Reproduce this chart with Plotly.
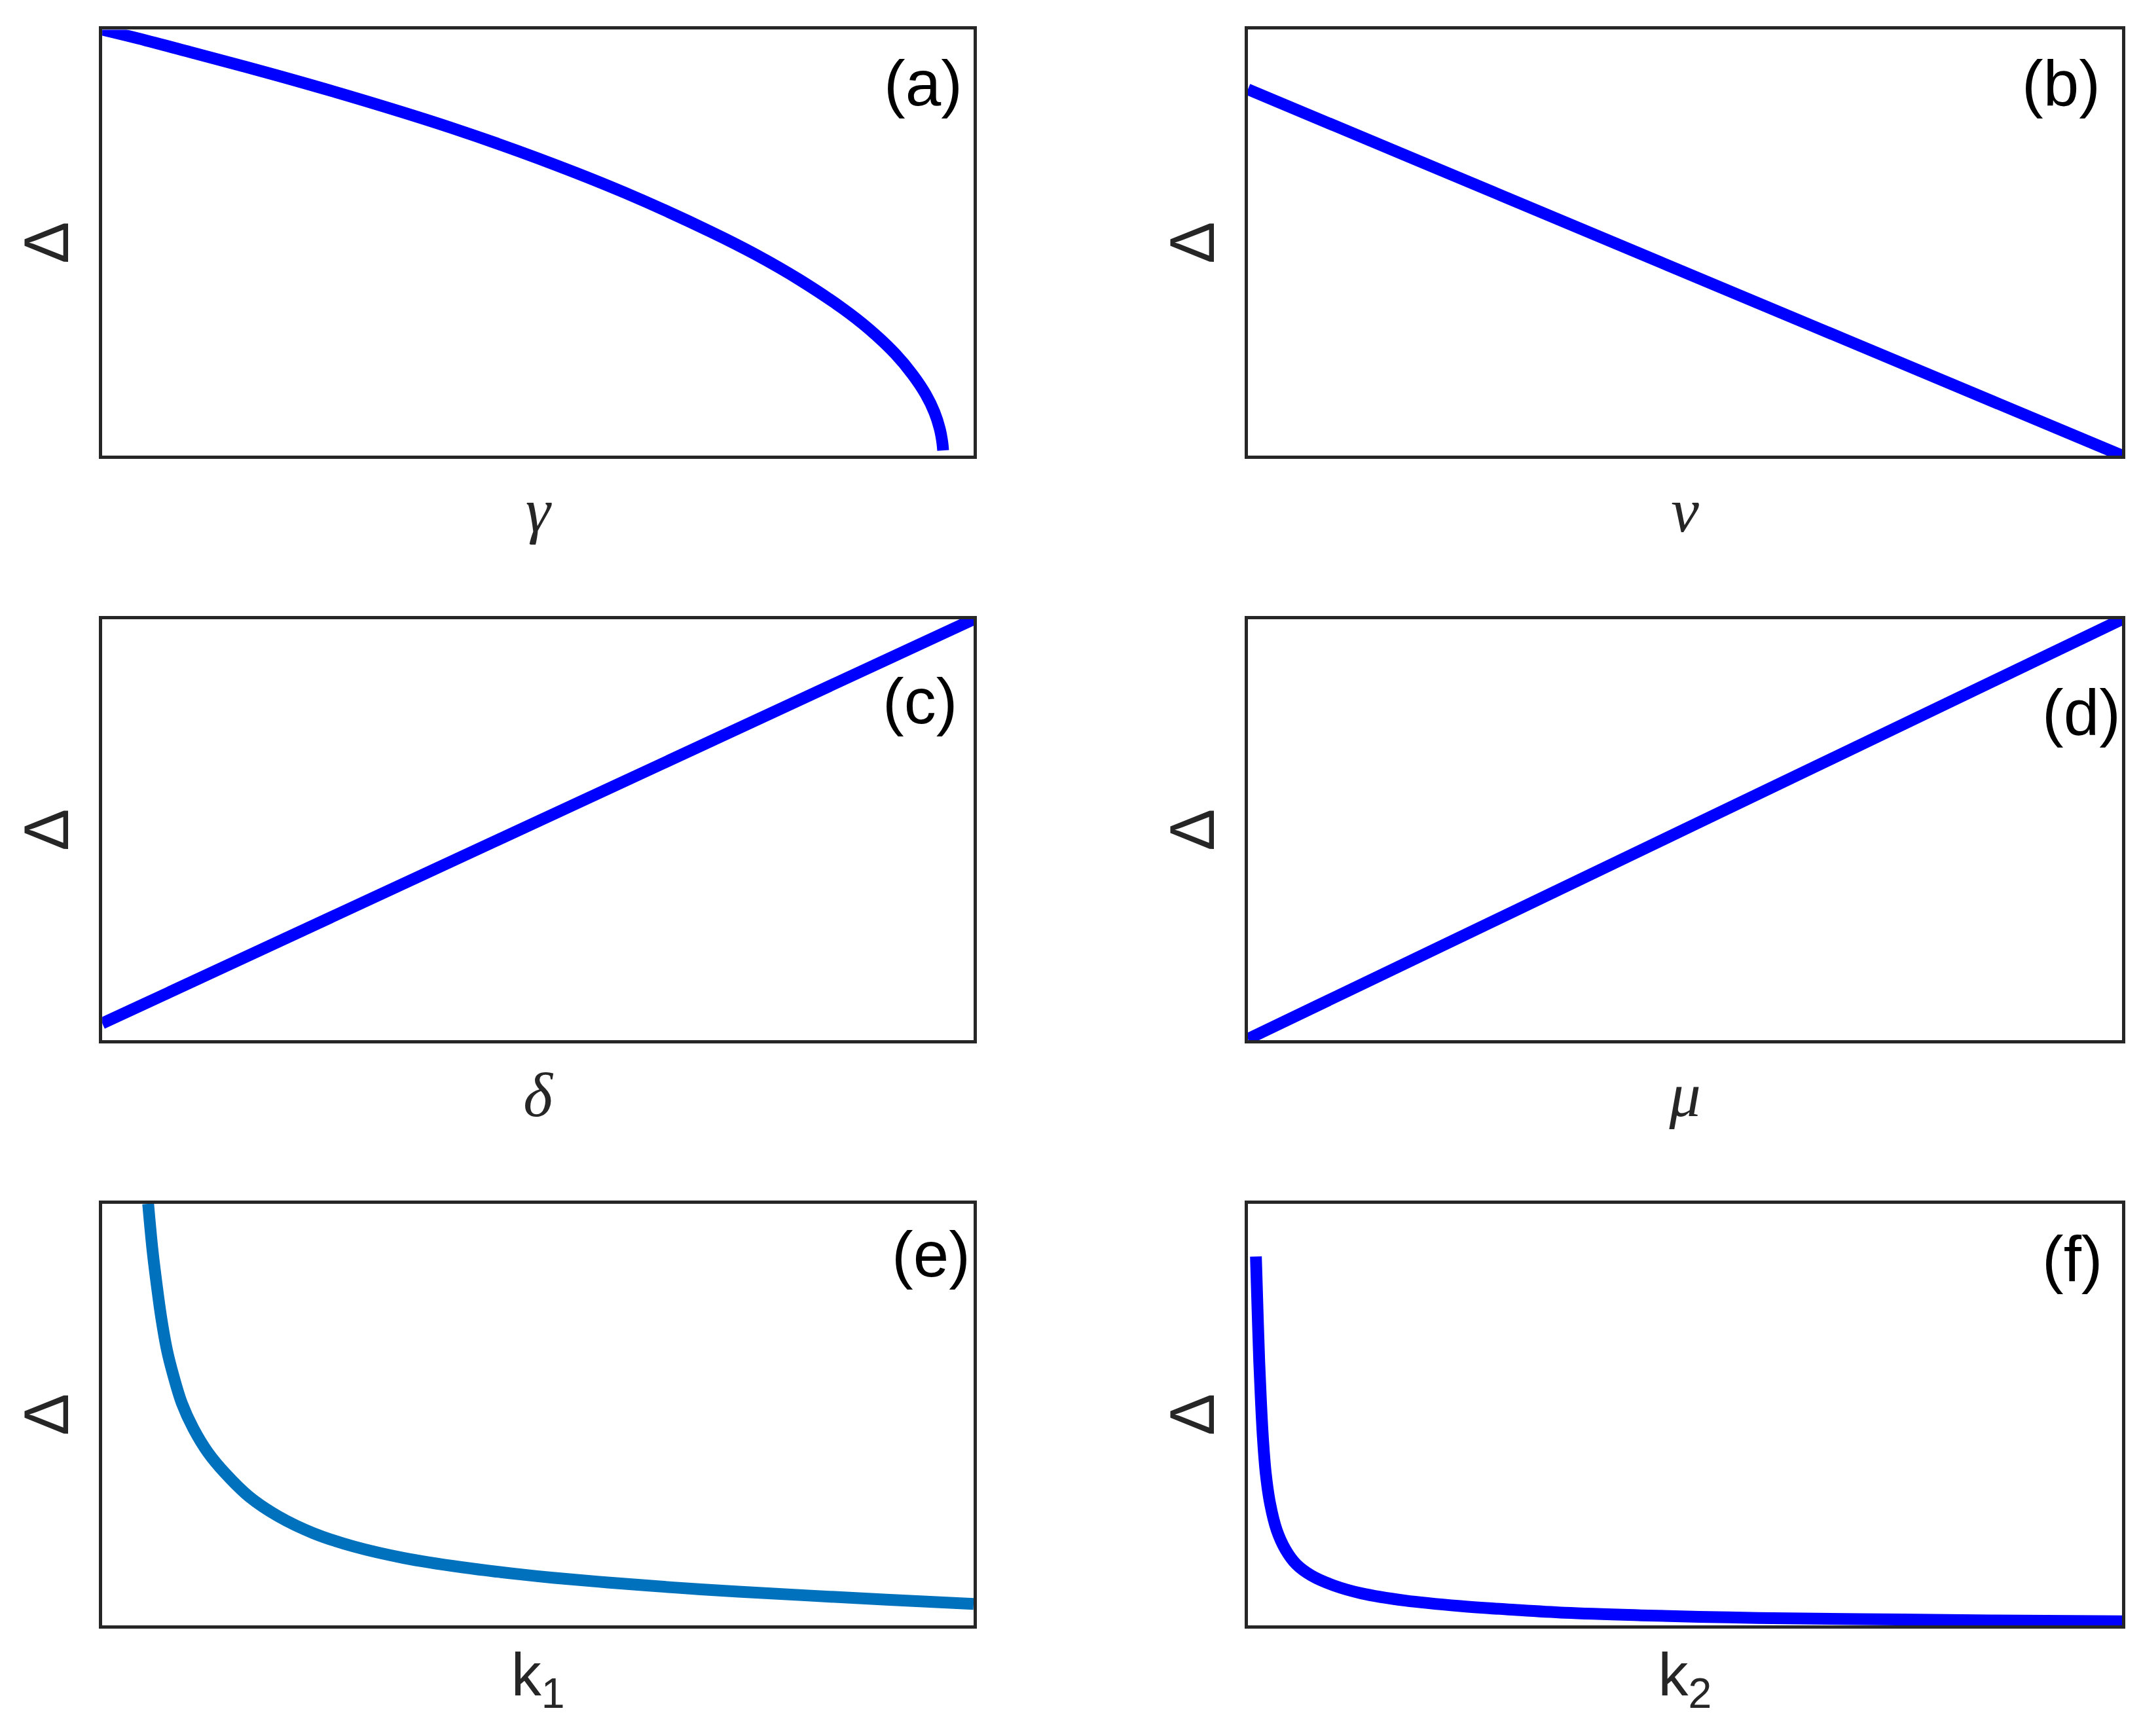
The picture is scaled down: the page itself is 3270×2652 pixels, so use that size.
import plotly.graph_objects as go

# panel (a): Delta vs gamma (normalised)
gamma_x = [0.0, 0.05, 0.1, 0.2, 0.3, 0.4, 0.5, 0.6, 0.7, 0.75, 0.8, 0.85, 0.88, 0.91, 0.93, 0.945, 0.955, 0.961, 0.964, 0.965]
gamma_y = [1.0, 0.975, 0.948, 0.893, 0.834, 0.770, 0.698, 0.617, 0.524, 0.472, 0.413, 0.345, 0.297, 0.239, 0.190, 0.144, 0.102, 0.064, 0.032, 0.012]

# panel (b): Delta vs nu
nu_x = [0.0, 1.0]
nu_y = [0.86, 0.0]

# panel (c): Delta vs delta
delta_x = [0.0, 1.0]
delta_y = [0.04, 1.0]

# panel (d): Delta vs mu
mu_x = [0.0, 1.0]
mu_y = [0.003, 1.0]

# panel (e): Delta vs k1
k1_x = [0.0527, 0.0577, 0.0627, 0.0677, 0.0744, 0.0812, 0.0912, 0.1046, 0.1214, 0.1415, 0.1683, 0.2019, 0.2421,
        0.2891, 0.3461, 0.4131, 0.4802, 0.5171, 0.58, 0.656, 0.73, 0.81, 0.9, 1.0]
k1_y = [1.0, 0.890, 0.805, 0.730, 0.652, 0.596, 0.528, 0.467, 0.410, 0.360, 0.306, 0.259, 0.219,
        0.187, 0.160, 0.138, 0.121, 0.113, 0.102, 0.090, 0.080, 0.071, 0.061, 0.051]

# panel (f): Delta vs k2
k2_x = [0.0092, 0.011, 0.013, 0.015, 0.0172, 0.0205, 0.0255, 0.033, 0.043, 0.0554, 0.0729, 0.0979, 0.130,
        0.180, 0.243, 0.305, 0.363, 0.45, 0.55, 0.65, 0.75, 0.85, 1.0]
k2_y = [0.875, 0.752, 0.625, 0.530, 0.445, 0.360, 0.288, 0.226, 0.180, 0.145, 0.118, 0.095, 0.076,
        0.059, 0.046, 0.037, 0.030, 0.024, 0.019, 0.016, 0.014, 0.012, 0.010]

panels = [
    (gamma_x, gamma_y, "#0000ff", "<i>γ</i>", "(a)", 0.989, 0.875),
    (nu_x, nu_y, "#0000ff", "<i>ν</i>", "(b)", 0.977, 0.875),
    (delta_x, delta_y, "#0000ff", "<i>δ</i>", "(c)", 0.983, 0.805),
    (mu_x, mu_y, "#0000ff", "<i>μ</i>", "(d)", 1.0, 0.779),
    (k1_x, k1_y, "#0072bd", "k<sub>1</sub>", "(e)", 0.998, 0.88),
    (k2_x, k2_y, "#0000ff", "k<sub>2</sub>", "(f)", 0.98, 0.87),
]

x_domains = [[0.0453, 0.4523], [0.5804, 0.9887]]
y_domains = [[0.7406, 0.9859], [0.4038, 0.6463], [0.0667, 0.3096]]

frame = "#262626"
fig = go.Figure()
layout = dict(
    width=3270, height=2652,
    margin=dict(l=0, r=0, t=0, b=0),
    paper_bgcolor="white", plot_bgcolor="white",
    showlegend=False,
    annotations=[],
)

for i, (xs, ys, col, xlab, tag, tx, ty) in enumerate(panels):
    n = i + 1
    xa = "x" if n == 1 else f"x{n}"
    ya = "y" if n == 1 else f"y{n}"
    fig.add_trace(go.Scatter(x=xs, y=ys, mode="lines",
                             line=dict(color=col, width=18, shape="spline", smoothing=1.0),
                             xaxis=xa, yaxis=ya))
    row, colm = divmod(i, 2)
    xname = "xaxis" if n == 1 else f"xaxis{n}"
    yname = "yaxis" if n == 1 else f"yaxis{n}"
    if "<i>" in xlab:
        xfont = dict(family="Liberation Serif", size=96, color=frame)
        xstand = 46
    else:
        xfont = dict(family="Liberation Sans", size=92, color=frame)
        xstand = 40
    layout[xname] = dict(domain=x_domains[colm], anchor=ya, range=[0, 1], showgrid=False, zeroline=False,
                         showticklabels=False, ticks="", showline=True, mirror=True, linecolor=frame, linewidth=5,
                         title=dict(text=xlab, font=xfont, standoff=xstand))
    layout[yname] = dict(domain=y_domains[row], anchor=xa, range=[0, 1], showgrid=False, zeroline=False,
                         showticklabels=False, ticks="", showline=True, mirror=True, linecolor=frame, linewidth=5,
                         title=dict(text="Δ", font=dict(family="Liberation Sans", size=96, color=frame), standoff=16))
    layout["annotations"].append(dict(text=tag, xref=f"{xa} domain", yref=f"{ya} domain", x=tx, y=ty,
                                      xanchor="right", yanchor="middle", showarrow=False,
                                      font=dict(family="Liberation Sans", size=98, color="black")))

fig.update_layout(**layout)
fig.write_html("out.html")
